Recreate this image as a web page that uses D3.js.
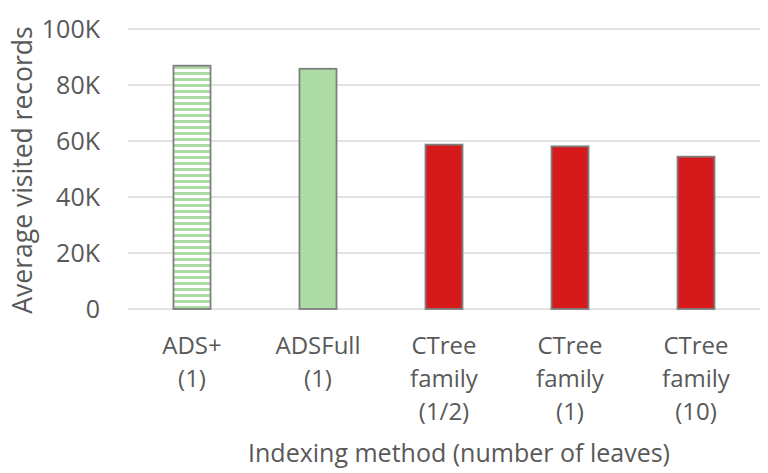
<!DOCTYPE html>
<html><head><meta charset="utf-8">
<script src="https://cdn.jsdelivr.net/npm/d3@7"></script>
<style>body{margin:0;background:#fff}</style>
</head><body>
<svg id="chart" width="768" height="473"></svg>
<script>
const categories = [["ADS+","(1)"],["ADSFull","(1)"],["CTree","family","(1/2)"],["CTree","family","(1)"],["CTree","family","(10)"]];
const values = [86900, 85800, 58700, 58100, 54400];
const fills = ["hatch","green","red","red","red"];
const yTicks = [0, 20000, 40000, 60000, 80000, 100000];
const yTickLabels = ["0","20K","40K","60K","80K","100K"];
const yTitle = "Average visited records";
const xTitle = "Indexing method (number of leaves)";

(function(){
const svg = d3.select("#chart");
const font = "'Open Sans', sans-serif";
const textColor = "#595959";
const pLeft = 129, pRight = 759, pTop = 29, pBottom = 309;

const defs = svg.append("defs");
const pat = defs.append("pattern").attr("id","hatch").attr("patternUnits","userSpaceOnUse")
  .attr("width",8).attr("height",6);
pat.append("rect").attr("width",8).attr("height",6).attr("fill","#fff");
pat.append("rect").attr("y",0).attr("width",8).attr("height",3).attr("fill","#acdca4");

const x = d3.scaleBand().domain(d3.range(categories.length)).range([pLeft,pRight]).paddingInner(0.706).paddingOuter(0.353);
const y = d3.scaleLinear().domain([0,100000]).range([pBottom,pTop]);

svg.append("g").selectAll("line").data(yTicks).join("line")
  .attr("x1",pLeft-1).attr("x2",pRight+1).attr("y1",d=>y(d)).attr("y2",d=>y(d))
  .attr("stroke","#d9d9d9").attr("stroke-width",1.5);

svg.append("g").selectAll("text").data(yTicks).join("text")
  .attr("x",100).attr("y",d=>y(d)).attr("dy","0.36em").attr("text-anchor","end")
  .attr("font-family",font).attr("font-size",25).attr("fill",textColor)
  .text((d,i)=>yTickLabels[i]);

const colorOf = f => f==="hatch" ? "url(#hatch)" : f==="green" ? "#acdca4" : "#d6191b";
svg.append("g").selectAll("rect").data(values).join("rect")
  .attr("x",(d,i)=>x(i)).attr("width",x.bandwidth())
  .attr("y",d=>y(d)).attr("height",d=>y(0)-y(d))
  .attr("fill",(d,i)=>colorOf(fills[i])).attr("stroke","#7f7f7f").attr("stroke-width",1.8);

const lab = svg.append("g");
categories.forEach((lines,i)=>{
  const t = lab.append("text").attr("text-anchor","middle")
    .attr("font-family",font).attr("font-size",24).attr("fill",textColor);
  lines.forEach((s,j)=>{
    t.append("tspan").attr("x",x(i)+x.bandwidth()/2).attr("y",353.5+j*33.3).text(s);
  });
});

svg.append("text").attr("x",(pLeft+pRight)/2+15).attr("y",461.5).attr("text-anchor","middle")
  .attr("font-family",font).attr("font-size",25).attr("fill",textColor).text(xTitle);

svg.append("text").attr("transform",`translate(32,${(pTop+pBottom)/2+1}) rotate(-90)`)
  .attr("text-anchor","middle").attr("font-family",font).attr("font-size",26.5).attr("fill",textColor).text(yTitle);
})();
</script>
</body></html>
